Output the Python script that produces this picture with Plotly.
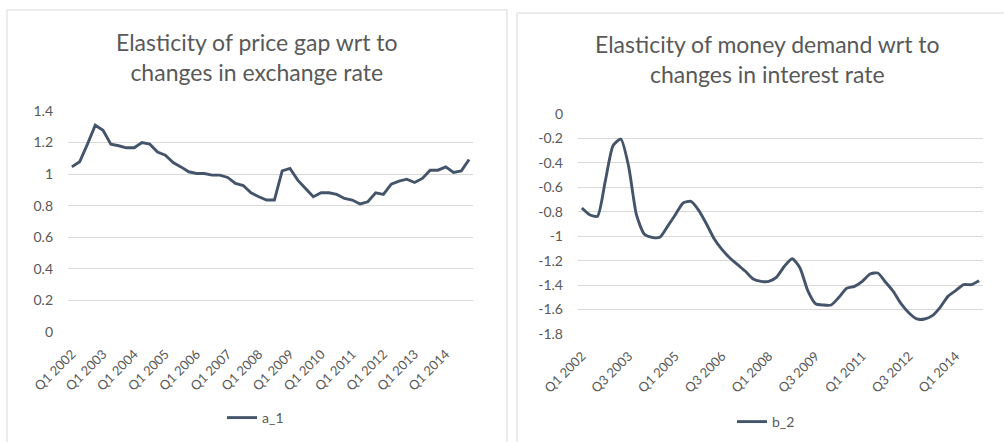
import plotly.graph_objects as go

W, H = 1004, 442

quarters = [f"Q{q} {y}" for y in range(2002, 2015) for q in range(1, 5)]

a_1 = [1.046, 1.078, 1.19, 1.31, 1.278, 1.19, 1.18, 1.167, 1.167, 1.20,
       1.19, 1.14, 1.12, 1.074, 1.046, 1.015, 1.004, 1.004, 0.994, 0.994,
       0.979, 0.941, 0.928, 0.882, 0.857, 0.836, 0.836, 1.021, 1.036, 0.962,
       0.909, 0.857, 0.882, 0.882, 0.872, 0.846, 0.836, 0.811, 0.825, 0.882,
       0.872, 0.937, 0.956, 0.968, 0.947, 0.973, 1.025, 1.025, 1.046, 1.011,
       1.021, 1.093]

b_2 = [-0.769, -0.824, -0.837, -0.55, -0.259, -0.205, -0.428, -0.824, -0.982, -1.009,
       -1.009, -0.919, -0.824, -0.728, -0.715, -0.788, -0.90, -1.023, -1.11, -1.178,
       -1.233, -1.287, -1.35, -1.369, -1.369, -1.334, -1.246, -1.184, -1.26, -1.445,
       -1.552, -1.563, -1.563, -1.50, -1.426, -1.41, -1.369, -1.309, -1.301, -1.377,
       -1.453, -1.554, -1.628, -1.677, -1.677, -1.65, -1.582, -1.492, -1.445, -1.396,
       -1.396, -1.364]

left_ticks = [0.0, 0.2, 0.4, 0.6, 0.8, 1.0, 1.2, 1.4]
left_ticktext = ["0", "0.2", "0.4", "0.6", "0.8", "1", "1.2", "1.4"]
right_ticks = [0.0, -0.2, -0.4, -0.6, -0.8, -1.0, -1.2, -1.4, -1.6, -1.8]
right_ticktext = ["0", "-0.2", "-0.4", "-0.6", "-0.8", "-1", "-1.2", "-1.4", "-1.6", "-1.8"]

title_left = "Elasticity of price gap wrt to<br>changes in exchange rate"
title_right = "Elasticity of money demand wrt to<br>changes in interest rate"

LINE = "#44546A"
GRID = "#D9D9D9"
TXT = "#595959"
FONT = "Lato"

idx = list(range(len(quarters)))

fig = go.Figure()
fig.add_trace(go.Scatter(x=idx, y=a_1, mode="lines", name="a_1",
                         line=dict(color=LINE, width=2.9), xaxis="x", yaxis="y",
                         legend="legend"))
fig.add_trace(go.Scatter(x=idx, y=b_2, mode="lines", name="b_2",
                         line=dict(color=LINE, width=2.9, shape="spline", smoothing=0.6),
                         xaxis="x2", yaxis="y2", legend="legend2"))

def px_x(v):
    return v / W

def px_y(v):
    return 1 - v / H

xcommon = dict(range=[-0.5, len(quarters) - 0.5], showgrid=False, zeroline=False,
               tickangle=-45, tickfont=dict(family=FONT, size=13, color=TXT),
               ticks="", showline=False, ticklabelstandoff=11, automargin=False)
ycommon = dict(showgrid=True, gridcolor=GRID, gridwidth=1, zeroline=False,
               tickfont=dict(family=FONT, size=14, color=TXT), ticks="",
               ticklabelstandoff=14, showline=False, automargin=False)

fig.update_layout(
    width=W, height=H,
    margin=dict(l=0, r=0, t=0, b=0, autoexpand=False),
    paper_bgcolor="white", plot_bgcolor="white",
    showlegend=True,
    xaxis=dict(domain=[px_x(68), px_x(473)], anchor="y",
               tickvals=idx[::4], ticktext=quarters[::4], **xcommon),
    yaxis=dict(domain=[px_y(332), px_y(111)], anchor="x", range=[0, 1.4],
               tickvals=left_ticks, ticktext=left_ticktext, **ycommon),
    xaxis2=dict(domain=[px_x(578), px_x(983)], anchor="y2",
                tickvals=idx[::6], ticktext=quarters[::6], **xcommon),
    yaxis2=dict(domain=[px_y(334), px_y(114)], anchor="x2", range=[-1.8, 0],
                tickvals=right_ticks, ticktext=right_ticktext, **ycommon),
    legend=dict(x=px_x(222), y=px_y(418), xanchor="left", yanchor="middle",
                orientation="h", font=dict(family=FONT, size=14, color=TXT),
                bgcolor="rgba(0,0,0,0)", itemwidth=30),
    legend2=dict(x=px_x(732), y=px_y(422), xanchor="left", yanchor="middle",
                 orientation="h", font=dict(family=FONT, size=14, color=TXT),
                 bgcolor="rgba(0,0,0,0)", itemwidth=30),
    shapes=[
        dict(type="rect", xref="paper", yref="paper",
             x0=px_x(7), x1=px_x(507), y0=px_y(450), y1=px_y(10),
             line=dict(color=GRID, width=1), fillcolor="rgba(0,0,0,0)", layer="below"),
        dict(type="rect", xref="paper", yref="paper",
             x0=px_x(517), x1=px_x(1012), y0=px_y(450), y1=px_y(13),
             line=dict(color=GRID, width=1), fillcolor="rgba(0,0,0,0)", layer="below"),
    ],
    annotations=[
        dict(text=title_left, xref="paper", yref="paper", x=px_x(257), y=px_y(57),
             xanchor="center", yanchor="middle", showarrow=False,
             font=dict(family=FONT, size=23, color=TXT)),
        dict(text=title_right, xref="paper", yref="paper", x=px_x(767), y=px_y(59),
             xanchor="center", yanchor="middle", showarrow=False,
             font=dict(family=FONT, size=23, color=TXT)),
    ],
)

fig.write_html("out.html")
